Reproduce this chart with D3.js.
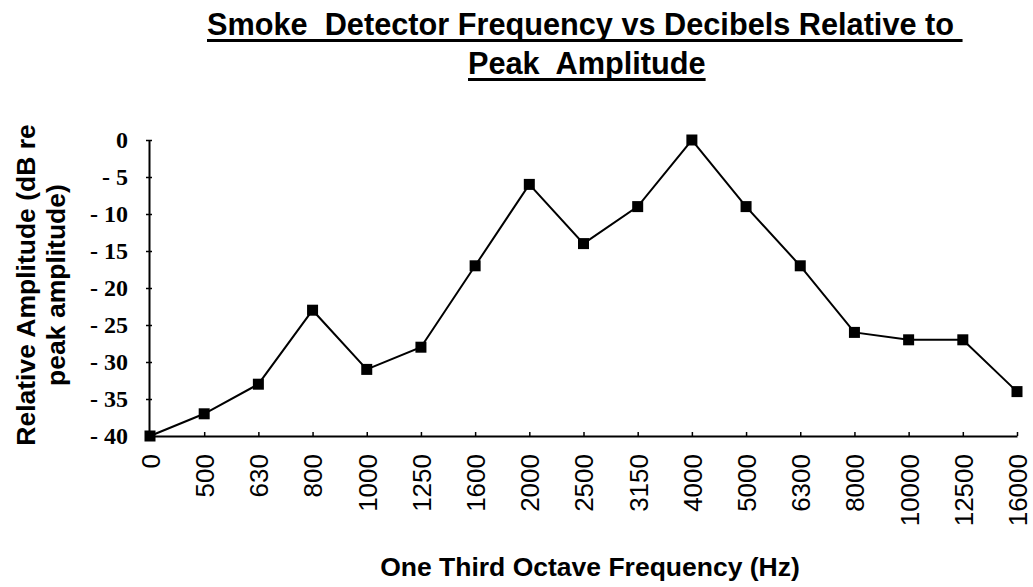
<!DOCTYPE html>
<html>
<head>
<meta charset="utf-8">
<script src="https://cdn.jsdelivr.net/npm/d3@7"></script>
<style>
  html, body { margin: 0; padding: 0; background: #fff; }
  svg { display: block; }
  text { white-space: pre; }
</style>
</head>
<body>
<svg id="chart" width="1033" height="587"></svg>
<script>
// ---- data ----
const categories = ["0", "500", "630", "800", "1000", "1250", "1600", "2000", "2500",
                    "3150", "4000", "5000", "6300", "8000", "10000", "12500", "16000"];
const values = [-40, -37, -33, -23, -31, -28, -17, -6, -14, -9, 0, -9, -17, -26, -27, -27, -34];
const yTicks = [0, -5, -10, -15, -20, -25, -30, -35, -40];
const titleLines = ["Smoke  Detector Frequency vs Decibels Relative to ", "Peak  Amplitude"];
const xTitle = "One Third Octave Frequency (Hz)";
const yTitleLines = ["Relative Amplitude (dB re", "peak amplitude)"];

const svg = d3.select("#chart");

const x = d3.scalePoint().domain(categories).range([150, 1017]).padding(0);
const y = d3.scaleLinear().domain([-40, 0]).range([436, 140]);

// ---- title ----
const titleG = svg.append("g");
const titlePos = [{x: 207, y: 35}, {x: 468, y: 74}];
titleLines.forEach((t, i) => {
  const txt = titleG.append("text")
    .attr("x", titlePos[i].x).attr("y", titlePos[i].y)
    .attr("font-family", "Liberation Sans, Arial, sans-serif")
    .attr("font-weight", "bold")
    .attr("font-size", 30.7)
    .attr("fill", "#000")
    .text(t);
  const len = txt.node().getComputedTextLength();
  titleG.append("line")
    .attr("x1", titlePos[i].x).attr("x2", titlePos[i].x + len)
    .attr("y1", titlePos[i].y + 5.5).attr("y2", titlePos[i].y + 5.5)
    .attr("stroke", "#000").attr("stroke-width", 3);
});

// ---- y axis ----
const yAxis = d3.axisLeft(y).tickValues(yTicks)
  .tickSize(0)
  .tickFormat(d => d === 0 ? "0" : "- " + Math.abs(d));
const yG = svg.append("g").attr("transform", "translate(149,0)").call(yAxis);
yG.select(".domain").attr("stroke", "#000").attr("stroke-width", 2);
yG.selectAll(".tick line").remove();
yG.selectAll(".tick").append("line")
  .attr("x1", -3).attr("x2", 3).attr("stroke", "#000").attr("stroke-width", 1.5);
yG.selectAll(".tick text")
  .attr("x", -21)
  .attr("font-family", "Liberation Serif, Times New Roman, serif")
  .attr("font-weight", "bold")
  .attr("font-size", 24)
  .attr("fill", "#000");

// ---- x axis ----
const xAxis = d3.axisBottom(x).tickSize(0);
const xG = svg.append("g").attr("transform", "translate(0,436)").call(xAxis);
xG.select(".domain").attr("stroke", "#000").attr("stroke-width", 2);
xG.selectAll(".tick line").remove();
xG.selectAll(".tick").append("line")
  .attr("y1", 0).attr("y2", -4).attr("stroke", "#000").attr("stroke-width", 1.5);
xG.selectAll(".tick text")
  .attr("transform", "rotate(-90)")
  .attr("x", -18).attr("y", 0).attr("dy", "0.36em")
  .attr("text-anchor", "end")
  .attr("font-family", "Liberation Sans, Arial, sans-serif")
  .attr("font-size", 26)
  .attr("fill", "#000");

// ---- axis titles ----
svg.append("text")
  .attr("x", 590).attr("y", 576)
  .attr("text-anchor", "middle")
  .attr("font-family", "Liberation Sans, Arial, sans-serif")
  .attr("font-weight", "bold").attr("font-size", 26.5)
  .attr("fill", "#000")
  .text(xTitle);

const yBase = [35, 65];
yTitleLines.forEach((t, i) => {
  svg.append("text")
    .attr("transform", `translate(${yBase[i]},285) rotate(-90)`)
    .attr("text-anchor", "middle")
    .attr("font-family", "Liberation Sans, Arial, sans-serif")
    .attr("font-weight", "bold").attr("font-size", 26.5)
    .attr("fill", "#000")
    .text(t);
});

// ---- line + markers ----
const pts = categories.map((c, i) => ({c, v: values[i]}));
const line = d3.line().x(d => x(d.c)).y(d => y(d.v));
svg.append("path").datum(pts)
  .attr("d", line)
  .attr("fill", "none").attr("stroke", "#000").attr("stroke-width", 2);

const ms = 11;
svg.append("g").selectAll("rect").data(pts).join("rect")
  .attr("x", d => x(d.c) - ms / 2)
  .attr("y", d => y(d.v) - ms / 2)
  .attr("width", ms).attr("height", ms)
  .attr("fill", "#000");
</script>
</body>
</html>
